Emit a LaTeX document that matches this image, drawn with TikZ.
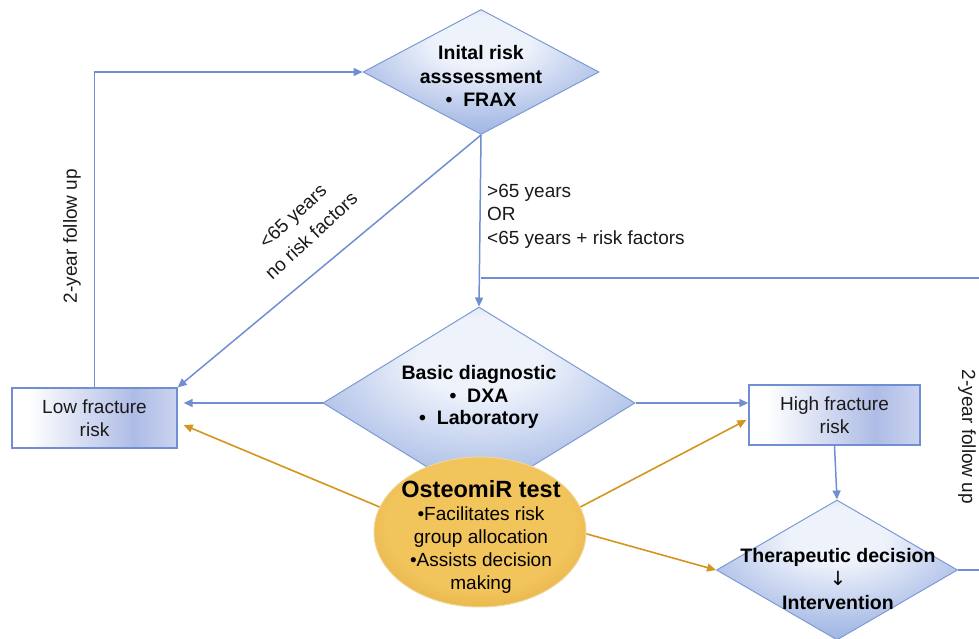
\documentclass[tikz,border=0pt]{standalone}
\usepackage{fontspec}
\setmainfont{Liberation Sans}
\newfontfamily\arrowfont{DejaVu Sans}
\usetikzlibrary{shapes.geometric,arrows.meta,calc}
\definecolor{lineblue}{HTML}{6F8FD2}
\definecolor{diamedge}{HTML}{7D9AD4}
\definecolor{diamdark}{HTML}{7D9BD5}
\definecolor{diammid}{HTML}{AFC1E8}
\definecolor{diamlight}{HTML}{EEF2FB}
\definecolor{boxblue}{HTML}{AEBCE6}
\definecolor{orangeline}{HTML}{D4951F}
\definecolor{goldlight}{HTML}{F2C45C}
\definecolor{golddark}{HTML}{C98F1F}
\definecolor{goldedge}{HTML}{EFD699}
\definecolor{txt}{HTML}{1A1A1A}
\pgfdeclareradialshading{diamshade}{\pgfpoint{0bp}{14bp}}{color(0bp)=(diamlight); color(10bp)=(diamlight); color(28bp)=(diammid); color(46bp)=(diamdark); color(80bp)=(diamdark)}
\pgfdeclarehorizontalshading{boxshade}{100bp}{color(0bp)=(white); color(30bp)=(white); color(62bp)=(boxblue); color(82bp)=(boxblue!45!white); color(100bp)=(white)}
\pgfdeclareradialshading{goldshade}{\pgfpoint{0bp}{4bp}}{color(0bp)=(goldlight); color(22bp)=(goldlight); color(48bp)=(golddark); color(60bp)=(golddark)}
\begin{document}
\begin{tikzpicture}[x=1pt,y=-1pt,
  diam/.style={shape=diamond, draw=diamedge, line width=1pt, inner sep=0pt, shading=diamshade},
  fbox/.style={shape=rectangle, draw=lineblue, line width=1.3pt, shading=boxshade, align=center,
               font=\fontsize{19}{23}\selectfont, text=txt, inner sep=0pt},
  dtext/.style={align=center, font=\fontsize{19.5}{23.5}\selectfont\bfseries, text=black, inner sep=0pt},
  lbl/.style={align=center, font=\fontsize{19}{23.5}\selectfont, text=txt, inner sep=0pt},
  bline/.style={draw=lineblue, line width=1.5pt},
  barrow/.style={bline, -{Triangle[length=9pt,width=8pt]}},
  oarrow/.style={draw=orangeline, line width=1.6pt, -{Triangle[length=9pt,width=8pt]}}
]
\useasboundingbox (0,0) rectangle (979,639);
\clip (0,0) rectangle (979,639);

% nodes
\node[diam, minimum width=236, minimum height=125] (init) at (481,72) {};
\node[dtext] (initt) at (481,76) {Inital risk\\asssessment\\\textbullet\ \ FRAX};

\node[diam, minimum width=312, minimum height=192] (basic) at (479,403) {};
\node[dtext, font=\fontsize{19.5}{22.5}\selectfont\bfseries] (basict) at (479,397) {Basic diagnostic\\\textbullet\ \ DXA\\\textbullet\ \ Laboratory};

\node[fbox, minimum width=165, minimum height=60] (low) at (94.5,418) {Low fracture\\risk};
\node[fbox, minimum width=171, minimum height=60] (high) at (834.5,415) {High fracture\\risk};

\node[diam, minimum width=241, minimum height=140] (ther) at (837,570) {};
\node[dtext] (thert) at (838,579) {Therapeutic decision\\{\arrowfont\mdseries ↓}\\Intervention};

\node[shape=ellipse, draw=goldedge, line width=1pt, shading=goldshade, minimum width=212, minimum height=150, inner sep=0pt] (ost) at (480,532) {};
\node[align=center, text=black, inner sep=0pt, font=\fontsize{19}{23}\selectfont] (ostt) at (481,537)
  {{\fontsize{23.5}{26}\selectfont\bfseries OsteomiR test}\\
   \textbullet Facilitates risk\\
   group allocation\\
   \textbullet Assists decision\\
   making};

% labels
\node[lbl, rotate=90] (lfu) at (72,236) {2-year follow up};
\node[lbl, rotate=-90] (rfu) at (967,437) {2-year follow up};
\node[lbl, rotate=43, font=\fontsize{19}{27}\selectfont] (lt65) at (302,226) {<65 years\\no risk factors};
\node[lbl, align=left, anchor=north west] (gt65) at (487,184) {>65 years\\OR\\<65 years + risk factors};

% helper coordinates
\coordinate (fbj) at (481,278);
\coordinate (fbr) at (983,278);

% blue connectors
\draw[barrow] (low.north) |- (init.west);
\draw[barrow] (init.south) -- (low.north east);
\draw[barrow] (init.south) -- (basic.north);
\draw[barrow, shorten >=6pt] (basic.west) -- (basic.west -| low.east);
\draw[barrow] (basic.east) -- (basic.east -| high.west);
\draw[barrow] (high.south) -- (ther.north);
\draw[bline] (ther.east) -| (fbr) -- (fbj);

% orange connectors
\draw[oarrow] (ost.166) -- ([xshift=6pt,yshift=-7pt]low.east);
\draw[oarrow] (ost.14) -- ([xshift=-2pt,yshift=-5pt]high.west);
\draw[oarrow] (ost.-1) -- (ther.west);
\end{tikzpicture}
\end{document}
